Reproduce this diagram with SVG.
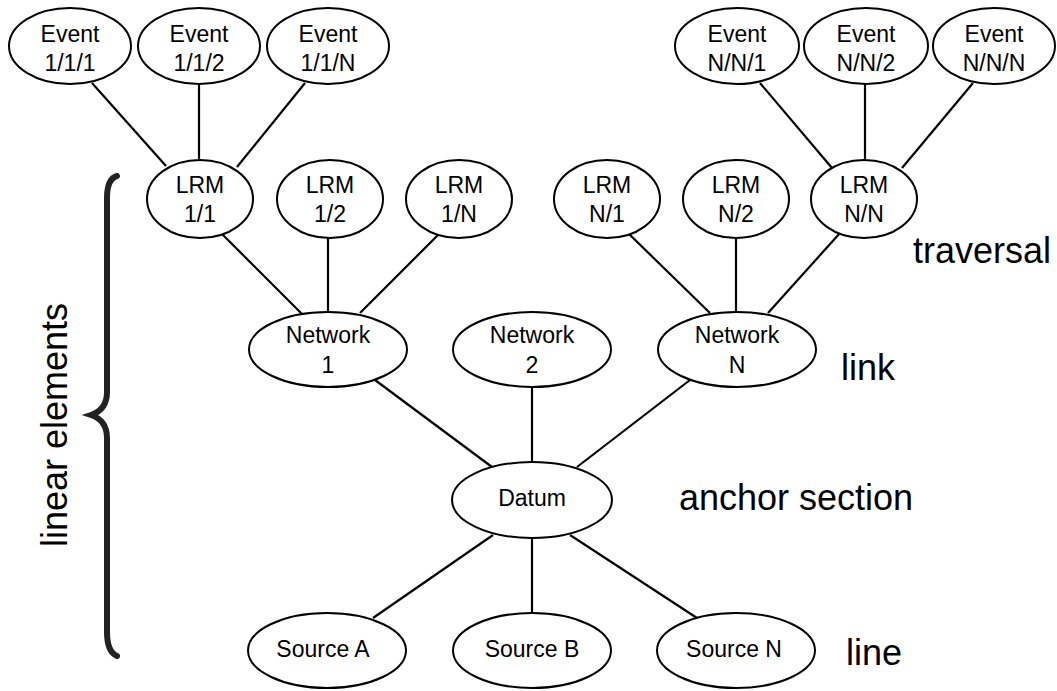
<svg xmlns="http://www.w3.org/2000/svg" width="1057" height="691" viewBox="0 0 1057 691">
<style>
.n ellipse{fill:#fff;stroke:#000;stroke-width:2}
.n text{font-family:"Liberation Sans",Arial,sans-serif;font-size:23px;text-anchor:middle;fill:#000}
.c line{stroke:#000;stroke-width:2.2}
.lbl{font-family:"Liberation Sans",Arial,sans-serif;font-size:36px;fill:#000}
</style>
<rect width="1057" height="691" fill="#fff"/>
<g class="c" id="connectors">
<line x1="92" y1="83" x2="166" y2="166"/>
<line x1="199" y1="84" x2="199" y2="160"/>
<line x1="305" y1="83" x2="237" y2="167"/>
<line x1="221" y1="233" x2="302" y2="314"/>
<line x1="328" y1="238" x2="328" y2="312"/>
<line x1="440" y1="233" x2="360" y2="313"/>
<line x1="628" y1="233" x2="710" y2="313"/>
<line x1="736" y1="238" x2="736" y2="312"/>
<line x1="840" y1="233" x2="768" y2="313"/>
<line x1="760" y1="83" x2="832" y2="168"/>
<line x1="865" y1="84" x2="865" y2="160"/>
<line x1="973" y1="83" x2="902" y2="168"/>
<line x1="375" y1="380" x2="492" y2="467"/>
<line x1="532" y1="387" x2="532" y2="462"/>
<line x1="690" y1="380" x2="577" y2="467"/>
<line x1="493" y1="535" x2="373" y2="618"/>
<line x1="532" y1="538" x2="532" y2="613"/>
<line x1="570" y1="535" x2="697" y2="618"/>
</g>
<g class="n" id="event-1-1-1"><ellipse cx="70" cy="46" rx="61" ry="38"/><text x="70" y="42">Event</text><text x="70" y="71">1/1/1</text></g>
<g class="n" id="event-1-1-2"><ellipse cx="199" cy="46" rx="61" ry="38"/><text x="199" y="42">Event</text><text x="199" y="71">1/1/2</text></g>
<g class="n" id="event-1-1-N"><ellipse cx="328" cy="46" rx="61" ry="38"/><text x="328" y="42">Event</text><text x="328" y="71">1/1/N</text></g>
<g class="n" id="event-N-N-1"><ellipse cx="737" cy="46" rx="62" ry="38"/><text x="737" y="42">Event</text><text x="737" y="71">N/N/1</text></g>
<g class="n" id="event-N-N-2"><ellipse cx="866" cy="46" rx="62" ry="38"/><text x="866" y="42">Event</text><text x="866" y="71">N/N/2</text></g>
<g class="n" id="event-N-N-N"><ellipse cx="994" cy="46" rx="61" ry="38"/><text x="994" y="42">Event</text><text x="994" y="71">N/N/N</text></g>
<g class="n" id="lrm-1-1"><ellipse cx="200" cy="199" rx="53" ry="39"/><text x="200" y="193">LRM</text><text x="200" y="222">1/1</text></g>
<g class="n" id="lrm-1-2"><ellipse cx="330" cy="199" rx="53" ry="39"/><text x="330" y="193">LRM</text><text x="330" y="222">1/2</text></g>
<g class="n" id="lrm-1-N"><ellipse cx="459" cy="199" rx="53" ry="39"/><text x="459" y="193">LRM</text><text x="459" y="222">1/N</text></g>
<g class="n" id="lrm-N-1"><ellipse cx="607" cy="199" rx="53" ry="39"/><text x="607" y="193">LRM</text><text x="607" y="222">N/1</text></g>
<g class="n" id="lrm-N-2"><ellipse cx="736" cy="199" rx="53" ry="39"/><text x="736" y="193">LRM</text><text x="736" y="222">N/2</text></g>
<g class="n" id="lrm-N-N"><ellipse cx="864" cy="199" rx="53" ry="39"/><text x="864" y="193">LRM</text><text x="864" y="222">N/N</text></g>
<g class="n" id="network-1"><ellipse cx="328" cy="349.5" rx="79" ry="37.5"/><text x="328" y="343">Network</text><text x="328" y="373">1</text></g>
<g class="n" id="network-2"><ellipse cx="532" cy="349.5" rx="79" ry="37.5"/><text x="532" y="343">Network</text><text x="532" y="373">2</text></g>
<g class="n" id="network-N"><ellipse cx="737" cy="349.5" rx="79" ry="37.5"/><text x="737" y="343">Network</text><text x="737" y="373">N</text></g>
<g class="n" id="datum"><ellipse cx="532" cy="500" rx="80" ry="38"/><text x="532" y="506">Datum</text></g>
<g class="n" id="source-A"><ellipse cx="327" cy="650.5" rx="79" ry="37.5"/><text x="323" y="657">Source A</text></g>
<g class="n" id="source-B"><ellipse cx="532" cy="650.5" rx="79" ry="37.5"/><text x="532" y="657">Source B</text></g>
<g class="n" id="source-N"><ellipse cx="736" cy="650.5" rx="79" ry="37.5"/><text x="734" y="657">Source N</text></g>
<g id="labels">
<text class="lbl" x="913" y="263">traversal</text>
<text class="lbl" x="841" y="380">link</text>
<text class="lbl" x="679" y="510">anchor section</text>
<text class="lbl" x="846" y="665">line</text>
<text class="lbl" text-anchor="middle" transform="translate(67,425) rotate(-90)">linear elements</text>
</g>
<g id="brace">
<path d="M117,176 C110,178 107,186 107,198 L107,392 C107,405 100,412 91,415 C100,418 107,425 107,438 L107,632 C107,645 110,653 117,656" fill="none" stroke="#222" stroke-width="6" stroke-linecap="round" stroke-linejoin="miter"/>
</g>
</svg>
